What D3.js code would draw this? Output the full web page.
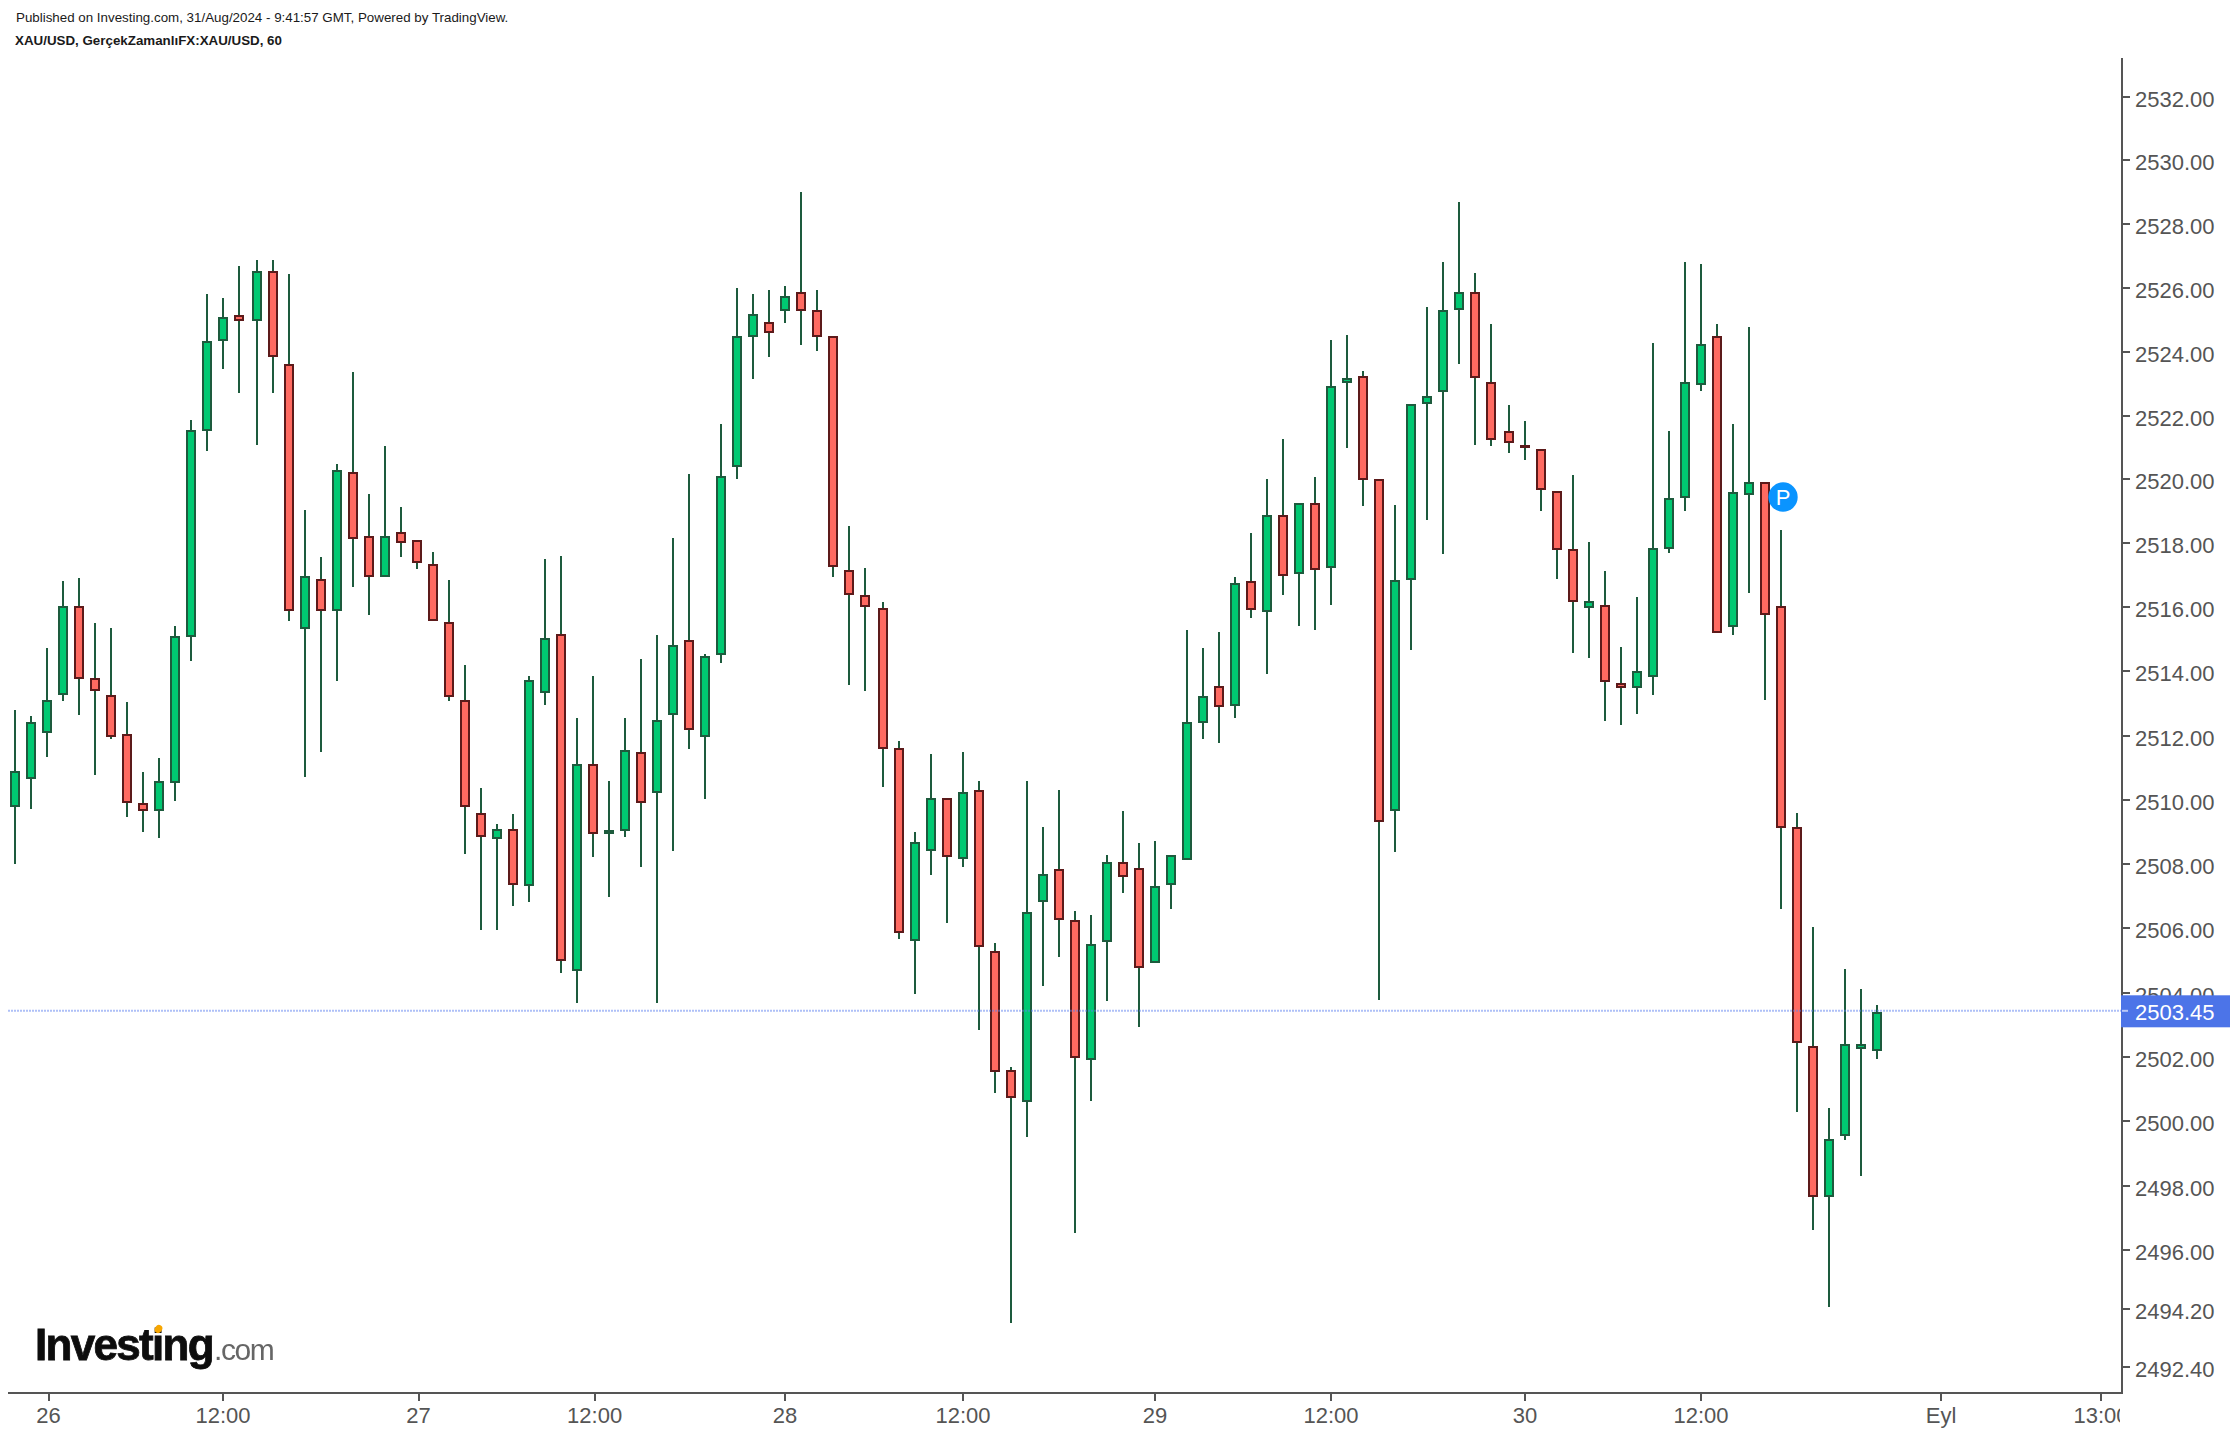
<!DOCTYPE html>
<html><head><meta charset="utf-8">
<script src="https://cdn.jsdelivr.net/npm/d3@7/dist/d3.min.js"></script>
<style>
html,body{margin:0;padding:0;background:#fff}
svg{display:block}
text{font-family:"Liberation Sans",Arial,sans-serif}
</style></head><body>
<svg id="chart" width="2230" height="1436"></svg>
<script>
const opens=[2509.77,2510.65,2512.09,2513.27,2516.04,2513.79,2513.28,2512.04,2509.91,2509.65,
2510.52,2515.09,2521.53,2524.33,2525.16,2524.96,2526.53,2523.60,2515.33,2516.90,
2515.89,2520.23,2518.23,2516.95,2518.35,2518.10,2517.35,2515.53,2513.10,2509.60,
2508.77,2509.09,2507.33,2513.33,2515.16,2504.68,2511.11,2508.92,2509.04,2511.48,
2510.22,2512.65,2514.97,2511.97,2514.51,2520.39,2524.46,2524.92,2525.27,2525.86,
2525.29,2524.48,2517.16,2516.40,2515.97,2511.62,2505.61,2508.41,2510.05,2508.16,
2510.31,2505.30,2501.60,2500.59,2506.81,2507.83,2506.27,2501.90,2505.57,2508.07,
2507.88,2504.93,2507.36,2508.12,2512.39,2513.55,2512.91,2516.82,2515.87,2518.88,
2517.04,2519.25,2517.22,2523.03,2523.24,2520.00,2509.66,2516.87,2522.36,2522.73,
2525.29,2525.87,2523.06,2521.50,2521.07,2520.94,2519.63,2517.81,2515.97,2516.07,
2513.63,2513.49,2513.84,2517.84,2519.41,2522.96,2524.49,2515.40,2519.51,2519.92,
2516.03,2509.15,2502.34,2497.67,2499.55,2502.24,2502.18];
const closes=[2510.91,2512.41,2513.10,2516.04,2513.78,2513.40,2511.96,2509.90,2509.65,2510.60,
2515.10,2521.54,2524.34,2525.10,2524.96,2526.53,2523.84,2515.89,2516.98,2515.89,
2520.29,2518.15,2516.95,2518.23,2518.02,2517.40,2515.58,2513.21,2509.77,2508.83,
2509.09,2507.35,2513.73,2515.04,2504.98,2511.11,2508.92,2509.06,2511.54,2509.91,
2512.48,2514.84,2512.16,2514.49,2520.10,2524.48,2525.17,2524.58,2525.73,2525.27,
2524.46,2517.26,2516.38,2516.01,2511.59,2505.86,2508.69,2510.05,2508.23,2510.25,
2505.43,2501.53,2500.72,2506.52,2507.69,2506.26,2501.96,2505.52,2508.07,2507.60,
2504.76,2507.33,2508.27,2512.42,2513.22,2512.89,2516.75,2515.92,2518.88,2516.99,
2519.25,2517.16,2522.93,2523.16,2519.97,2509.31,2516.87,2522.37,2522.62,2525.30,
2525.87,2523.16,2521.22,2521.15,2520.97,2519.68,2517.79,2516.17,2516.20,2513.66,
2513.49,2514.01,2517.87,2519.43,2523.06,2524.25,2515.21,2519.60,2519.92,2515.76,
2509.12,2502.43,2497.67,2499.45,2502.40,2502.40,2503.40];
const highs=[2512.81,2512.60,2514.73,2516.81,2516.93,2515.50,2515.37,2513.06,2510.87,2511.29,
2515.43,2521.87,2525.81,2525.69,2526.69,2526.88,2526.88,2526.43,2519.05,2517.56,
2520.49,2523.37,2519.56,2521.06,2519.13,2518.10,2517.74,2516.87,2514.19,2510.37,
2509.24,2509.56,2513.86,2517.50,2517.62,2512.56,2513.87,2510.57,2512.56,2514.38,
2515.13,2518.17,2520.17,2514.56,2521.75,2526.00,2525.82,2525.94,2526.07,2529.01,
2525.94,2524.48,2518.55,2517.24,2516.18,2511.82,2509.01,2511.44,2510.05,2511.50,
2510.57,2505.53,2501.68,2510.57,2509.15,2510.32,2506.53,2506.40,2508.28,2509.64,
2508.65,2508.71,2508.27,2515.29,2514.74,2515.23,2516.95,2518.33,2520.02,2521.27,
2519.25,2520.08,2524.38,2524.52,2523.39,2520.00,2519.20,2522.37,2525.39,2526.82,
2528.70,2526.46,2524.88,2522.32,2521.82,2520.94,2519.63,2520.13,2518.03,2517.14,
2514.76,2516.34,2524.26,2521.52,2526.82,2526.76,2524.88,2521.75,2524.76,2519.92,
2518.43,2509.60,2506.04,2500.41,2504.73,2504.11,2503.60];
const lows=[2508.01,2509.70,2511.32,2513.07,2512.63,2510.76,2511.89,2509.45,2509.01,2508.82,
2509.95,2514.32,2520.88,2523.45,2522.70,2521.07,2522.70,2515.57,2510.70,2511.50,
2513.69,2516.63,2515.75,2516.95,2517.57,2517.20,2515.58,2513.07,2508.32,2505.95,
2505.95,2506.70,2506.83,2512.95,2504.60,2503.67,2508.21,2506.97,2508.84,2507.91,
2503.67,2508.40,2511.58,2510.03,2514.26,2520.01,2523.14,2523.83,2524.90,2524.21,
2524.02,2516.95,2513.57,2513.39,2510.39,2505.66,2503.97,2507.66,2506.15,2507.91,
2502.85,2500.89,2493.74,2499.52,2504.19,2505.11,2496.54,2500.64,2503.75,2507.11,
2502.94,2504.93,2506.59,2508.12,2511.89,2511.77,2512.54,2515.67,2513.91,2516.40,
2515.42,2515.28,2516.08,2520.97,2519.16,2503.76,2508.36,2514.66,2518.73,2517.66,
2523.60,2521.09,2521.04,2520.84,2520.60,2519.01,2516.89,2514.58,2514.41,2512.45,
2512.34,2512.66,2513.27,2517.71,2519.01,2522.76,2515.19,2515.13,2516.45,2513.10,
2506.61,2500.30,2496.62,2494.24,2499.43,2498.31,2501.93];

const priceTicks=[2532,2530,2528,2526,2524,2522,2520,2518,2516,2514,2512,2510,2508,2506,2504,2502,2500,2498,2496,2494.2,2492.4];
const timeTickBars=[2.1,13,25.1,36.1,48,59,71,82,94,105,120,130];
const timeTickLabels=["26","12:00","27","12:00","28","12:00","29","12:00","30","12:00","Eyl","13:00"];
const lastPrice=2503.45;
const markerBar=109, markerPrice=2519.45;
const headerLine1="Published on Investing.com, 31/Aug/2024 - 9:41:57 GMT, Powered by TradingView.";
const headerLine2="XAU/USD, GerçekZamanlıFX:XAU/USD, 60";

const svg=d3.select("#chart");
const axisColor="#555555";
const frame={left:8,right:2122,top:58,bottom:1393};

const y=d3.scaleLog().domain([2492.4,2532]).range([1366.7,96.7]);
const x=d3.scaleLinear().domain([0,14,15,53,54,92,93,116]).range([15,239,257,865,883,1491,1509,1877]);

const candles=opens.map((o,i)=>({i,o,c:closes[i],h:highs[i],l:lows[i],up:closes[i]>=o}));

const defs=svg.append("defs");
defs.append("clipPath").attr("id","xclip").append("rect")
  .attr("x",0).attr("y",1380).attr("width",2120).attr("height",56);
defs.append("filter").attr("id","soft").append("feGaussianBlur").attr("stdDeviation",0.7);

// Wicks
svg.append("g").selectAll("line").data(candles).join("line")
  .attr("x1",d=>x(d.i)).attr("x2",d=>x(d.i))
  .attr("y1",d=>y(d.h)).attr("y2",d=>y(d.l))
  .attr("stroke","#1d5b3d").attr("stroke-width",2).attr("shape-rendering","crispEdges");

// Bodies
svg.append("g").selectAll("rect").data(candles).join("rect")
  .attr("x",d=>x(d.i)-4)
  .attr("width",8)
  .attr("y",d=>y(Math.max(d.o,d.c))+1)
  .attr("height",d=>Math.max(y(Math.min(d.o,d.c))-y(Math.max(d.o,d.c))-2,0.5))
  .attr("fill",d=>d.up?"#00c972":"#ff6a61")
  .attr("stroke",d=>d.up?"#1d5b3d":"#5c1a1a")
  .attr("stroke-width",2)
  .attr("shape-rendering","crispEdges");

// Y axis
const yAxis=svg.append("g").attr("transform",`translate(${frame.right},0)`)
  .call(d3.axisRight(y).tickValues(priceTicks).tickFormat(d=>d.toFixed(2)).tickSize(8).tickPadding(5).offset(0));
// X axis, clipped at the right edge of the plot
const xAxis=svg.append("g").attr("clip-path","url(#xclip)").append("g")
  .attr("transform",`translate(0,${frame.bottom})`)
  .call(d3.axisBottom(x).tickValues(timeTickBars).tickFormat((d,i)=>timeTickLabels[i]).tickSize(8).tickPadding(5).offset(0));
[yAxis,xAxis].forEach(a=>{
  a.select(".domain").remove();
  a.selectAll("line").attr("stroke",axisColor).attr("stroke-width",2).attr("shape-rendering","crispEdges");
  a.selectAll("text").attr("fill",axisColor).attr("font-size",22).attr("font-family",'"Liberation Sans",Arial,sans-serif');
});
yAxis.selectAll("text").attr("dy","10px");
xAxis.selectAll("text").attr("dy",0).attr("y",30);

// Frame lines
svg.append("line").attr("x1",frame.right).attr("x2",frame.right).attr("y1",frame.top).attr("y2",frame.bottom+1)
  .attr("stroke",axisColor).attr("stroke-width",2).attr("shape-rendering","crispEdges");
svg.append("line").attr("x1",frame.left).attr("x2",frame.right+1).attr("y1",frame.bottom).attr("y2",frame.bottom)
  .attr("stroke",axisColor).attr("stroke-width",2).attr("shape-rendering","crispEdges");

// Last price line and tag
svg.append("line").attr("x1",frame.left).attr("x2",frame.right).attr("y1",y(lastPrice)+0.5).attr("y2",y(lastPrice)+0.5)
  .attr("stroke","#5f83f0").attr("stroke-width",2).attr("stroke-dasharray","2 1").attr("opacity",0.5);
svg.append("rect").attr("x",frame.right-1).attr("width",2230-frame.right+1)
  .attr("y",y(lastPrice)-15).attr("height",32).attr("fill","#4c74e8");
svg.append("line").attr("x1",frame.right).attr("x2",frame.right+6).attr("y1",y(lastPrice)+0.5).attr("y2",y(lastPrice)+0.5)
  .attr("stroke","#b9c8f6").attr("stroke-width",2);
svg.append("text").attr("x",2135).attr("y",y(lastPrice)+10).attr("fill","#fff").attr("font-size",22).text(lastPrice.toFixed(2));

// P marker
const mx=x(markerBar)+18, my=y(markerPrice);
svg.append("circle").attr("cx",mx).attr("cy",my).attr("r",14.7).attr("fill","#0a94ff");
svg.append("text").attr("x",mx).attr("y",my+8).attr("text-anchor","middle").attr("fill","#fff").attr("font-size",22).text("P");

// Header
svg.append("text").attr("x",16).attr("y",22).attr("font-size",13.35).attr("fill","#1a1a1a").text(headerLine1);
svg.append("text").attr("x",15).attr("y",45).attr("font-size",13.35).attr("font-weight","bold").attr("fill","#1a1a1a").text(headerLine2);

// Logo
const logo=svg.append("g").attr("filter","url(#soft)");
logo.append("text").attr("x",35).attr("y",1360).attr("font-size",44).attr("font-weight","bold")
  .attr("letter-spacing",-1.7).attr("fill","#0a0a0a").attr("stroke","#0a0a0a").attr("stroke-width",0.8).text("Investing");
logo.append("text").attr("x",214).attr("y",1360).attr("font-size",30)
  .attr("letter-spacing",-1.4).attr("fill","#666").text(".com");
logo.append("ellipse").attr("cx",158.5).attr("cy",1329).attr("rx",3.6).attr("ry",4.2)
  .attr("transform","rotate(35 158.5 1329)").attr("fill","#f7a600");
</script>
</body></html>
